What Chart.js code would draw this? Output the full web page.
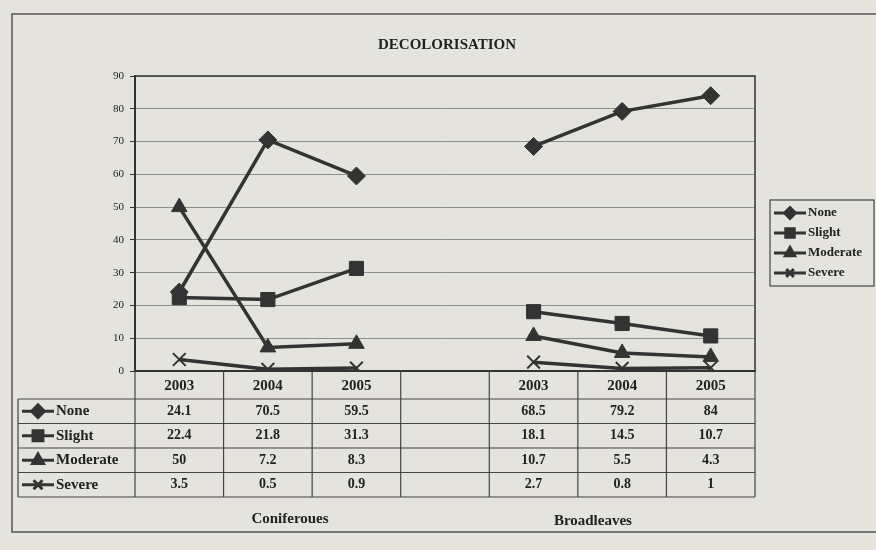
<!DOCTYPE html>
<html>
<head>
<meta charset="utf-8">
<script src="https://cdn.jsdelivr.net/npm/chart.js@4/dist/chart.umd.min.js"></script>
<style>
  html, body { margin: 0; padding: 0; background: #e4e3de; }
  #wrap { width: 876px; height: 550px; }
</style>
</head>
<body>
<div id="wrap"><canvas id="chart"></canvas></div>
<script>
const years = ['2003', '2004', '2005', '', '2003', '2004', '2005'];
const groups = ['Coniferoues', 'Broadleaves'];
const seriesNames = ['None', 'Slight', 'Moderate', 'Severe'];
const none = [24.1, 70.5, 59.5, null, 68.5, 79.2, 84];
const slight = [22.4, 21.8, 31.3, null, 18.1, 14.5, 10.7];
const moderate = [50, 7.2, 8.3, null, 10.7, 5.5, 4.3];
const severe = [3.5, 0.5, 0.9, null, 2.7, 0.8, 1];

const serif = "'Liberation Serif', 'DejaVu Serif', serif";
const ink = '#333';
const styles = [
    {pointStyle: 'rectRot', radius: 9, borderWidth: 1},
    {pointStyle: 'rect', radius: 10, borderWidth: 1},
    {pointStyle: 'triangle', radius: 9, borderWidth: 1},
    {pointStyle: 'crossRot', radius: 9, borderWidth: 2}
];

// line + marker, used in the legend and in the table keys
function drawKey(ctx, x, y, len, st, scale) {
    ctx.save();
    ctx.strokeStyle = ink;
    ctx.fillStyle = ink;
    ctx.lineWidth = 3;
    ctx.beginPath();
    ctx.moveTo(x, y);
    ctx.lineTo(x + len, y);
    ctx.stroke();
    Chart.helpers.drawPoint(ctx, {
        pointStyle: st.pointStyle,
        rotation: 0,
        radius: st.radius * scale,
        borderWidth: st.borderWidth
    }, x + len / 2, y);
    ctx.restore();
}

const tablePlugin = {
    id: 'dataTable',
    afterDraw(chart) {
        const ctx = chart.ctx;
        const a = chart.chartArea;
        const x = chart.scales.x;
        const colW = x.getPixelForValue(1) - x.getPixelForValue(0);
        const edges = years.map((_, i) => x.getPixelForValue(i) - colW / 2);
        edges.push(a.right);
        const keyLeft = 18;
        const headBot = a.bottom + 28;
        const rowH = 24.5;
        const tableBot = headBot + rowH * seriesNames.length;
        const values = [none, slight, moderate, severe];

        ctx.save();
        // title
        ctx.fillStyle = '#222';
        ctx.font = 'bold 15px ' + serif;
        ctx.textAlign = 'center';
        ctx.textBaseline = 'middle';
        ctx.fillText('DECOLORISATION', 447, 45);

        // plot border
        ctx.strokeStyle = ink;
        ctx.lineWidth = 1.5;
        ctx.strokeRect(a.left, a.top, a.right - a.left, a.bottom - a.top);

        // outer frame
        ctx.strokeStyle = '#555';
        ctx.strokeRect(12, 14, 880, 518);

        // table grid
        ctx.strokeStyle = '#444';
        ctx.lineWidth = 1.2;
        ctx.beginPath();
        edges.forEach(e => { ctx.moveTo(e, a.bottom); ctx.lineTo(e, tableBot); });
        ctx.moveTo(keyLeft, headBot); ctx.lineTo(keyLeft, tableBot);
        for (let r = 0; r <= seriesNames.length; r++) {
            const yy = headBot + r * rowH;
            ctx.moveTo(keyLeft, yy); ctx.lineTo(a.right, yy);
        }
        ctx.stroke();

        // header years
        ctx.fillStyle = '#222';
        ctx.font = 'bold 15px ' + serif;
        years.forEach((yr, i) => ctx.fillText(yr, x.getPixelForValue(i), a.bottom + 15));

        // rows
        values.forEach((arr, r) => {
            const cy = headBot + r * rowH + rowH / 2;
            drawKey(ctx, 22, cy, 32, styles[r], 0.7);
            ctx.fillStyle = '#222';
            ctx.font = 'bold 15px ' + serif;
            ctx.textAlign = 'left';
            ctx.fillText(seriesNames[r], 56, cy);
            ctx.textAlign = 'center';
            ctx.font = 'bold 14px ' + serif;
            arr.forEach((v, i) => {
                if (v !== null) ctx.fillText(String(v), x.getPixelForValue(i), cy);
            });
        });

        // group labels
        ctx.font = 'bold 15px ' + serif;
        ctx.fillText(groups[0], x.getPixelForValue(1) + colW * 0.25, tableBot + 22);
        ctx.fillText(groups[1], x.getPixelForValue(5) - colW * 0.33, tableBot + 24);

        // legend
        ctx.strokeStyle = '#444';
        ctx.lineWidth = 1.2;
        ctx.strokeRect(770, 200, 104, 86);
        seriesNames.forEach((name, r) => {
            const cy = 213 + r * 20;
            drawKey(ctx, 774, cy, 32, styles[r], 0.6);
            ctx.fillStyle = '#222';
            ctx.font = 'bold 13px ' + serif;
            ctx.textAlign = 'left';
            ctx.fillText(name, 808, cy);
        });
        ctx.restore();
    }
};

const context = document.getElementById('chart').getContext('2d');
const datasets = [none, slight, moderate, severe].map((arr, i) => ({
    label: seriesNames[i],
    data: arr,
    borderColor: ink,
    backgroundColor: ink,
    borderWidth: 3.5,
    pointStyle: styles[i].pointStyle,
    pointRadius: styles[i].radius,
    pointBorderWidth: styles[i].borderWidth,
    pointBackgroundColor: ink,
    pointBorderColor: ink,
    spanGaps: false,
    tension: 0
}));

new Chart(context, {
    type: 'line',
    data: {labels: years, datasets: datasets},
    plugins: [tablePlugin],
    options: {
        responsive: true,
        maintainAspectRatio: false,
        animation: false,
        layout: {padding: {left: 100, right: 121, top: 76, bottom: 179}},
        plugins: {
            legend: {display: false},
            tooltip: {enabled: false}
        },
        scales: {
            x: {
                offset: true,
                grid: {display: false},
                border: {color: ink, width: 2},
                ticks: {display: false},
                afterFit: s => { s.height = 0; }
            },
            y: {
                min: 0,
                max: 90,
                ticks: {stepSize: 10, color: '#222', font: {family: serif, size: 11}, padding: 6},
                grid: {color: '#8d8d89', tickLength: 5, tickColor: ink},
                border: {color: ink, width: 2},
                afterFit: s => { s.width = 35; }
            }
        }
    }
});
</script>
</body>
</html>
